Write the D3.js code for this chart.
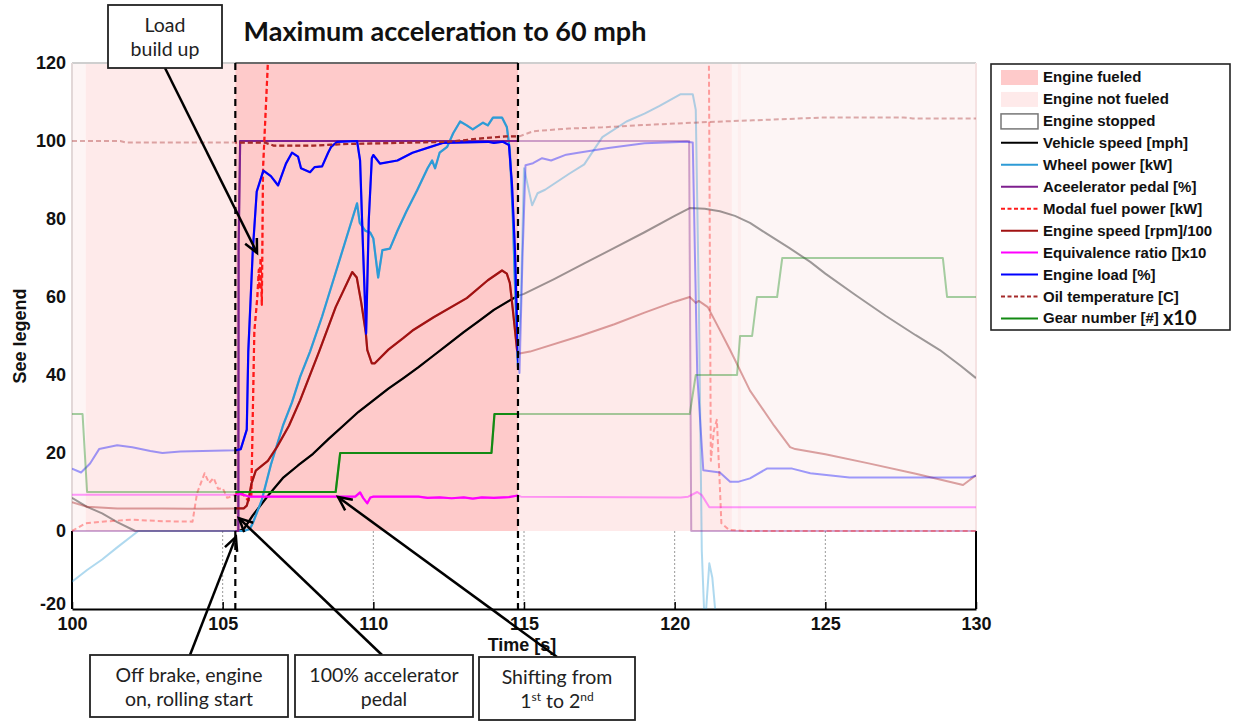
<!DOCTYPE html>
<html>
<head>
<meta charset="utf-8">
<script src="https://cdn.jsdelivr.net/npm/d3@7"></script>
<style>
  body { margin: 0; background: #fff; }
  svg { display: block; }
</style>
</head>
<body>
<svg id="chart" width="1235" height="724"></svg>
<script>
// ---- time axis ticks and value axis ticks ----
const timeTicks = [100, 105, 110, 115, 120, 125, 130];
const valueTicks = [-20, 0, 20, 40, 60, 80, 100, 120];

// ---- engine state bands [start s, end s, state] ----
const engineBands = [
  [100, 100.45, "light"],
  [100.45, 105.42, "notFueled"],
  [105.42, 114.8, "fueled"],
  [114.8, 121.9, "notFueled"],
  [121.9, 122.1, "light"],
  [122.1, 122.2, "mid"],
  [122.2, 130, "light"]
];

// full-colour window of the run (between the dashed markers)
const runStart = 105.42;
const runEnd = 114.8;

// ---- measured channels, [time s, value] ----
const vehicleSpeed = [
  [100, 8.5], [100.5, 6.2], [101, 4.5], [101.5, 2.3], [102.1, 0], [105.55, 0], [105.7, 0.5],
  [106, 4], [106.5, 9], [107, 13.6], [107.5, 16.8], [108, 19.8], [108.5, 23.5], [109, 27],
  [109.5, 30.5], [110, 33.5], [110.5, 36.5], [111, 39.2], [111.5, 42], [112, 45], [112.5, 48],
  [113, 51], [113.5, 53.8], [114, 56.7], [114.5, 59], [114.8, 60.3], [115, 60.8], [116, 64.6],
  [117, 68.6], [118, 72.6], [119, 76.6], [120, 80.8], [120.5, 82.8], [121, 82.6], [121.5, 82],
  [122, 80.8], [122.5, 79], [123, 76.5], [123.8, 72.6], [124.5, 69], [125, 66], [126, 60.5],
  [127, 55.2], [128, 50.2], [128.8, 46.4], [129.5, 42.3], [130, 39.2]
];

const wheelPower = [
  [100, -13], [100.5, -10], [101, -7.3], [101.5, -4.2], [102.2, 0], [105.7, 0], [105.9, 0.5],
  [106, 2], [106.3, 8], [106.6, 17], [107, 27], [107.3, 33], [107.57, 39.5], [107.9, 46],
  [108.3, 55], [108.7, 65], [109.1, 75], [109.46, 84], [109.55, 79], [109.73, 77], [109.9, 76.5],
  [110.0, 75], [110.16, 65], [110.3, 72], [110.55, 72.4], [110.8, 77], [111.1, 82], [111.45, 87.3],
  [111.8, 93], [111.95, 95], [112.05, 93], [112.2, 97], [112.45, 98.5], [112.65, 102], [112.88, 105],
  [113.1, 104], [113.3, 103], [113.64, 104.7], [113.8, 104], [113.97, 106], [114.27, 106],
  [114.43, 103.6], [114.53, 97.6], [114.63, 80.5], [114.7, 63.5], [114.8, 42], [114.9, 60],
  [115.0, 93], [115.27, 83.5], [115.45, 86.6], [115.7, 87.5], [116.5, 91.6], [117, 94],
  [117.6, 101], [118.4, 105], [119, 107], [119.5, 109], [120.2, 112], [120.6, 112], [120.7, 108],
  [120.8, 60], [120.9, -5], [121.0, -25], [121.15, -8.3], [121.25, -12], [121.4, -25],
  [121.6, -40], [130, -40]
];

const acceleratorPedal = [
  [100, 0], [105.52, 0], [105.53, 73], [105.58, 100], [120.48, 100], [120.55, 0], [130, 0]
];

const modalFuelPower = [
  [100, 0], [100.45, 2], [101, 2.4], [102, 2.9], [103, 2.5], [104, 2.4], [104.15, 9.7],
  [104.4, 14.8], [104.55, 12.3], [104.7, 13.6], [104.85, 10.8], [105, 11], [105.15, 8.5],
  [105.35, 9], [105.5, 9.7], [105.7, 9.3], [105.85, 7.7], [105.95, 9], [106.0, 30],
  [106.05, 51], [106.15, 60], [106.2, 67], [106.22, 62], [106.26, 70], [106.3, 58],
  [106.34, 93], [106.5, 120], [106.6, 140], [107, 175], [120, 175], [121.1, 175],
  [121.15, 100], [121.2, 18], [121.3, 25.7], [121.4, 28.5], [121.48, 15], [121.55, 2],
  [121.8, 0.3], [122.3, 0], [130, 0]
];

const engineSpeed = [
  [100, 7.4], [100.5, 6.2], [101.5, 5.8], [103, 5.8], [104, 5.7], [105.45, 5.8], [105.7, 5.8],
  [105.8, 6.5], [105.87, 8.5], [105.95, 12], [106.1, 15.5], [106.5, 18], [106.8, 21.5],
  [107.2, 27], [107.57, 33.5], [108.2, 46], [108.75, 57.4], [109.3, 66.4], [109.45, 65],
  [109.6, 58.5], [109.75, 50.8], [109.8, 46.4], [109.95, 43], [110.05, 43], [110.5, 46.5],
  [111, 49.5], [111.3, 51.4], [112, 54.8], [113.1, 59.7], [113.8, 64.3], [114.27, 66.8],
  [114.43, 66], [114.53, 63.6], [114.63, 56.7], [114.77, 46.4], [114.85, 45.5], [115.2, 46],
  [116.86, 50], [118, 53], [119, 56], [120, 58.8], [120.5, 60], [120.7, 58.5], [120.8, 59],
  [121.1, 57.4], [121.5, 51.5], [121.84, 46.4], [122.5, 36], [123.3, 27], [123.83, 21.5],
  [124, 21], [125, 19.7], [126.4, 17.4], [128, 14.7], [129.57, 11.8], [130, 14.3]
];

const equivalenceRatio = [
  [100, 9.3], [102, 9.3], [105.45, 9.3], [105.6, 9.5], [105.9, 8.8], [109.4, 8.8],
  [109.56, 9.9], [109.66, 8.5], [109.8, 7.1], [109.9, 8.6], [110, 8.8], [111.5, 8.8],
  [111.8, 8.5], [112.2, 8.6], [112.6, 8.4], [113, 8.6], [113.3, 8.3], [113.6, 8.6], [114, 8.5],
  [114.5, 8.7], [114.8, 9.1], [114.9, 8.8], [120.2, 8.6], [120.45, 8.8], [120.75, 10],
  [120.9, 9.2], [121.15, 6.1], [130, 6.1]
];

const engineLoad = [
  [100, 16], [100.3, 15], [100.6, 17.3], [100.9, 21], [101.5, 22], [102, 21.5], [102.6, 20.5],
  [103, 20], [103.6, 20.4], [105.45, 20.7], [105.6, 21], [105.8, 26], [105.85, 46], [106, 72],
  [106.13, 87], [106.35, 92.4], [106.6, 91], [106.84, 88.6], [107.1, 94.2], [107.3, 97],
  [107.5, 96], [107.6, 93], [107.9, 92], [108.05, 93.3], [108.3, 93.5], [108.5, 97],
  [108.6, 98.5], [108.8, 99.8], [109.46, 100], [109.56, 95], [109.66, 72], [109.76, 50.6],
  [109.85, 80], [109.95, 95.6], [110.0, 96.4], [110.22, 94.2], [110.8, 95], [111.3, 97],
  [111.9, 98.5], [112.3, 99.5], [113.8, 99.8], [114.0, 99.5], [114.3, 99.8], [114.5, 99],
  [114.6, 89], [114.7, 72], [114.8, 44], [114.85, 40.5], [114.95, 70], [115.05, 93.8],
  [115.3, 94.3], [115.6, 95.6], [115.9, 95], [116.4, 96.5], [116.8, 97], [117.8, 98.2],
  [119, 99.4], [120.4, 99.8], [120.6, 99.6], [120.75, 40], [120.95, 15.6], [121.5, 15],
  [121.84, 12.6], [122.1, 12.6], [122.5, 13.5], [123.06, 16], [123.9, 16], [124.5, 14.8],
  [125.8, 13.7], [127.5, 13.7], [129.8, 13.7], [130, 14.2]
];

const oilTemperature = [
  [100, 100], [101.6, 100], [101.8, 99.6], [105.5, 99.6], [106.4, 99.6], [106.7, 98.8],
  [108, 98.8], [109, 99.2], [111.3, 99.6], [112.5, 99.8], [113.5, 100.6], [114.4, 101.2],
  [114.85, 101.2], [115.3, 102.5], [116.5, 103.2], [117.6, 103.5], [118.7, 104], [120.9, 104.8],
  [122.6, 105.3], [124.9, 106], [127.6, 106], [127.9, 105.8], [130, 105.8]
];

const gearNumber = [
  [100, 30], [100.35, 30], [100.5, 10], [108.75, 10], [108.9, 20], [113.92, 20], [114.02, 30],
  [120.5, 30], [120.7, 40], [122.07, 40], [122.17, 50], [122.57, 50], [122.73, 60], [123.4, 60],
  [123.57, 70], [128.9, 70], [129.04, 60], [130, 60]
];

// ---- legend entries ----
const legendLabels = [
  "Engine fueled", "Engine not fueled", "Engine stopped", "Vehicle speed [mph]",
  "Wheel power [kW]", "Aceelerator pedal [%]", "Modal fuel power [kW]",
  "Engine speed [rpm]/100", "Equivalence ratio []x10", "Engine load [%]",
  "Oil temperature [C]", "Gear number [#]"
];

// ---- styling ----
const bandColor = { fueled: "#fecaca", notFueled: "#feeaea", light: "#fdf5f5", mid: "#fdeeee" };
const series = [
  { data: vehicleSpeed, color: "#000000" },
  { data: wheelPower, color: "#2e9bd6" },
  { data: acceleratorPedal, color: "#7e1f8e" },
  { data: modalFuelPower, color: "#ff1a1a", dash: "5,3" },
  { data: engineSpeed, color: "#a11212" },
  { data: equivalenceRatio, color: "#ff00ff" },
  { data: engineLoad, color: "#0000ff" },
  { data: oilTemperature, color: "#a52a2a", dash: "5,3" },
  { data: gearNumber, color: "#138a13" }
];

const svg = d3.select("#chart");
const x = d3.scaleLinear().domain([100, 130]).range([72, 976]);
const y = d3.scaleLinear().domain([-20, 120]).range([609, 63]);
const boldFont = "'Liberation Sans', Arial, sans-serif";
const textFont = "Lato, 'Open Sans', sans-serif";

const defs = svg.append("defs");
defs.append("clipPath").attr("id", "plotClip").append("rect")
  .attr("x", x(100)).attr("y", y(120)).attr("width", x(130) - x(100)).attr("height", y(-20) - y(120));
defs.append("clipPath").attr("id", "runClip").append("rect")
  .attr("x", x(runStart)).attr("y", y(120)).attr("width", x(runEnd) - x(runStart)).attr("height", y(-20) - y(120));

// dotted grid below the zero line
svg.append("g").selectAll("line").data(timeTicks.slice(1, -1)).join("line")
  .attr("x1", d => x(d)).attr("x2", d => x(d))
  .attr("y1", y(0)).attr("y2", y(-20))
  .attr("stroke", "#9a9a9a").attr("stroke-width", 1).attr("stroke-dasharray", "2,2");

// engine state shading
svg.append("g").selectAll("rect").data(engineBands).join("rect")
  .attr("x", d => x(d[0])).attr("width", d => x(d[1]) - x(d[0]))
  .attr("y", y(120)).attr("height", y(0) - y(120))
  .attr("fill", d => bandColor[d[2]]);

// axes frame
const frame = svg.append("g");
frame.append("line").attr("x1", x(100)).attr("x2", x(130)).attr("y1", y(120)).attr("y2", y(120))
  .attr("stroke", "#cfcfcf").attr("stroke-width", 2);
frame.append("line").attr("x1", x(runStart)).attr("x2", x(runEnd)).attr("y1", y(120)).attr("y2", y(120))
  .attr("stroke", "#6a6a6a").attr("stroke-width", 2);
frame.append("line").attr("x1", x(100)).attr("x2", x(100)).attr("y1", y(120)).attr("y2", y(0))
  .attr("stroke", "#e2d8d8").attr("stroke-width", 2);
frame.append("line").attr("x1", x(130)).attr("x2", x(130)).attr("y1", y(120)).attr("y2", y(0))
  .attr("stroke", "#f5e2e2").attr("stroke-width", 2);
frame.append("line").attr("x1", x(100)).attr("x2", x(100)).attr("y1", y(0)).attr("y2", y(-20))
  .attr("stroke", "#000").attr("stroke-width", 2);
frame.append("line").attr("x1", x(130)).attr("x2", x(130)).attr("y1", y(0)).attr("y2", y(-20))
  .attr("stroke", "#000").attr("stroke-width", 2);

const xAxis = svg.append("g").attr("transform", `translate(0,${y(-20)})`)
  .call(d3.axisBottom(x).tickValues(timeTicks).tickFormat(d => String(d)).tickSizeInner(-7).tickSizeOuter(0).tickPadding(8));
xAxis.select(".domain").attr("stroke", "#000").attr("stroke-width", 2);
xAxis.selectAll(".tick line").attr("stroke", "#000").attr("stroke-width", 1.5);
xAxis.selectAll("text").attr("font-family", boldFont).attr("font-weight", "bold").attr("font-size", 18).attr("fill", "#111");

const yAxis = svg.append("g").attr("transform", `translate(${x(100)},0)`)
  .call(d3.axisLeft(y).tickValues(valueTicks).tickFormat(d => String(d)).tickSize(0).tickPadding(6));
yAxis.select(".domain").remove();
yAxis.selectAll("text").attr("font-family", boldFont).attr("font-weight", "bold").attr("font-size", 18).attr("fill", "#111");
// lowest value label sits just above the time labels
yAxis.selectAll(".tick").filter(d => d === -20).select("text").attr("dy", "0.05em");

svg.append("text").attr("x", 522).attr("y", 651).attr("text-anchor", "middle")
  .attr("font-family", boldFont).attr("font-weight", "bold").attr("font-size", 18).attr("fill", "#111")
  .text("Time [s]");
svg.append("text").attr("transform", `translate(26,${(y(120) + y(-20)) / 2}) rotate(-90)`)
  .attr("text-anchor", "middle")
  .attr("font-family", boldFont).attr("font-weight", "bold").attr("font-size", 18).attr("fill", "#111")
  .text("See legend");

// channel traces: faint everywhere, full colour inside the run window
const line = d3.line().x(d => x(d[0])).y(d => y(d[1]));
const faint = svg.append("g").attr("clip-path", "url(#plotClip)");
const bright = svg.append("g").attr("clip-path", "url(#runClip)");
series.forEach(s => {
  faint.append("path").attr("d", line(s.data)).attr("fill", "none")
    .attr("stroke", s.color).attr("stroke-opacity", 0.38).attr("stroke-width", 2)
    .attr("stroke-dasharray", s.dash || null).attr("stroke-linejoin", "round");
  bright.append("path").attr("d", line(s.data)).attr("fill", "none")
    .attr("stroke", s.color).attr("stroke-width", 2.2)
    .attr("stroke-dasharray", s.dash || null).attr("stroke-linejoin", "round");
});

// run window markers
svg.append("g").selectAll("line").data([runStart, runEnd]).join("line")
  .attr("x1", d => x(d)).attr("x2", d => x(d)).attr("y1", y(120)).attr("y2", y(-20))
  .attr("stroke", "#000").attr("stroke-width", 2.2).attr("stroke-dasharray", "7,5");

// title
svg.append("text").attr("x", 445).attr("y", 41).attr("text-anchor", "middle")
  .attr("font-family", textFont).attr("font-weight", "bold").attr("font-size", 27).attr("fill", "#111")
  .text("Maximum acceleration to 60 mph");

// legend
const lg = svg.append("g");
lg.append("rect").attr("x", 991).attr("y", 64).attr("width", 239).attr("height", 266)
  .attr("fill", "#fff").attr("stroke", "#222").attr("stroke-width", 1.6);
const rowY = i => 77 + i * 21.95;
const swatchX0 = 1001, swatchX1 = 1038;
lg.append("rect").attr("x", swatchX0).attr("y", rowY(0) - 7).attr("width", swatchX1 - swatchX0).attr("height", 15).attr("fill", bandColor.fueled);
lg.append("rect").attr("x", swatchX0).attr("y", rowY(1) - 7).attr("width", swatchX1 - swatchX0).attr("height", 15).attr("fill", bandColor.notFueled);
lg.append("rect").attr("x", swatchX0).attr("y", rowY(2) - 7).attr("width", swatchX1 - swatchX0).attr("height", 15)
  .attr("fill", "#fff").attr("stroke", "#777").attr("stroke-width", 1.5);
series.forEach((s, i) => {
  lg.append("line").attr("x1", swatchX0).attr("x2", swatchX1).attr("y1", rowY(i + 3)).attr("y2", rowY(i + 3))
    .attr("stroke", s.color).attr("stroke-width", 2).attr("stroke-dasharray", s.dash ? "4,2.5" : null);
});
lg.selectAll("text.lab").data(legendLabels).join("text").attr("class", "lab")
  .attr("x", 1043).attr("y", (d, i) => rowY(i) + 5)
  .attr("font-family", boldFont).attr("font-weight", "bold").attr("font-size", 15).attr("fill", "#111")
  .text(d => d);
const gearLab = lg.selectAll("text.lab").filter((d, i) => i === legendLabels.length - 1);
const gearW = gearLab.node().getComputedTextLength();
lg.append("text").attr("x", 1043 + gearW + 4).attr("y", rowY(11) + 7)
  .attr("font-family", textFont).attr("font-weight", "bold").attr("font-size", 20).attr("fill", "#111").text("x10");

// callouts
const notes = [
  { box: [108, 5, 114, 63], lines: ["Load", "build up"], from: [165, 68], tip: [106.14, 71.3] },
  { box: [90, 655, 198, 62], lines: ["Off brake, engine", "on, rolling start"], from: [190, 655], tip: [105.44, -1.5] },
  { box: [295, 655, 178, 62], lines: ["100% accelerator", "pedal"], from: [382, 655], tip: [105.54, 3.3] },
  { box: [479, 657, 156, 63], lines: ["Shifting from", null], from: [557, 657], tip: [108.83, 8.7] }
];
const noteSize = 19.5;
const ng = svg.append("g");
notes.forEach(n => {
  const [bx, by, bw, bh] = n.box;
  const tx = x(n.tip[0]), ty = y(n.tip[1]);
  const [fx, fy] = n.from;
  ng.append("line").attr("x1", fx).attr("y1", fy).attr("x2", tx).attr("y2", ty)
    .attr("stroke", "#000").attr("stroke-width", 2.5);
  const ang = Math.atan2(ty - fy, tx - fx);
  const len = 15, spread = 0.45;
  const p1 = [tx - len * Math.cos(ang - spread), ty - len * Math.sin(ang - spread)];
  const p2 = [tx - len * Math.cos(ang + spread), ty - len * Math.sin(ang + spread)];
  ng.append("path").attr("d", `M${p1[0]},${p1[1]}L${tx},${ty}L${p2[0]},${p2[1]}`)
    .attr("fill", "none").attr("stroke", "#000").attr("stroke-width", 2.5).attr("stroke-linejoin", "miter");
  ng.append("rect").attr("x", bx).attr("y", by).attr("width", bw).attr("height", bh)
    .attr("fill", "#fff").attr("stroke", "#222").attr("stroke-width", 1.8);
  const cx = bx + bw / 2;
  ng.append("text").attr("x", cx).attr("y", by + 27).attr("text-anchor", "middle")
    .attr("font-family", textFont).attr("font-size", noteSize).attr("fill", "#222").text(n.lines[0]);
  if (n.lines[1]) {
    ng.append("text").attr("x", cx).attr("y", by + 51).attr("text-anchor", "middle")
      .attr("font-family", textFont).attr("font-size", noteSize).attr("fill", "#222").text(n.lines[1]);
  } else {
    const t2 = ng.append("text").attr("x", cx).attr("y", by + 51).attr("text-anchor", "middle")
      .attr("font-family", textFont).attr("font-size", noteSize).attr("fill", "#222");
    t2.append("tspan").text("1");
    t2.append("tspan").attr("font-size", 12).attr("dy", -7).text("st");
    t2.append("tspan").attr("dy", 7).text(" to 2");
    t2.append("tspan").attr("font-size", 12).attr("dy", -7).text("nd");
  }
});
</script>
</body>
</html>
